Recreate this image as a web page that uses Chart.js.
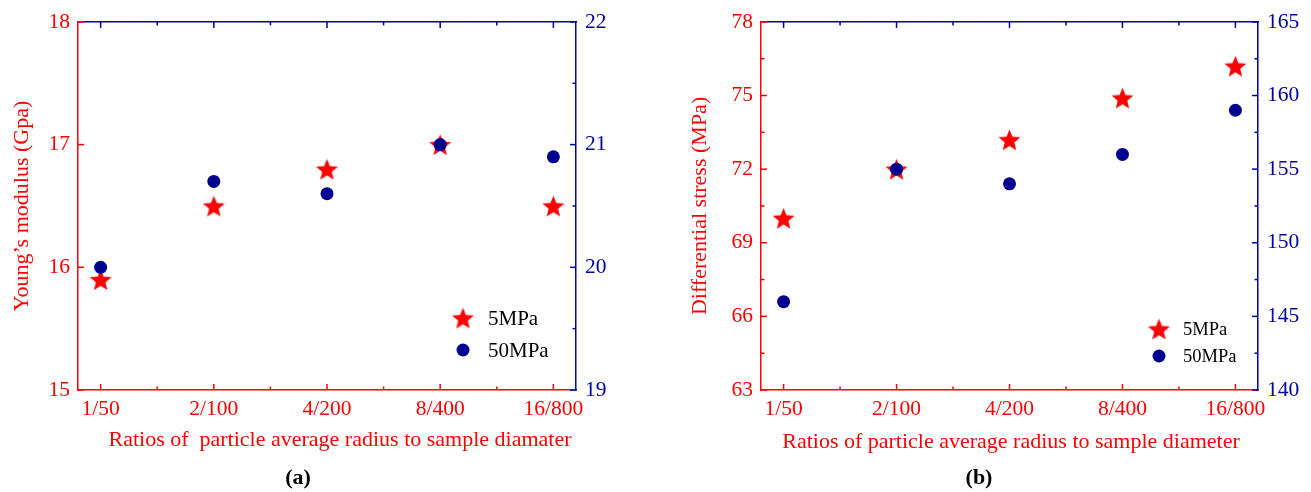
<!DOCTYPE html>
<html>
<head>
<meta charset="utf-8">
<script src="https://cdn.jsdelivr.net/npm/chart.js@4"></script>
<style>
  html, body { margin: 0; padding: 0; background: #fff; }
  #wrap { position: relative; width: 1311px; height: 492px; overflow: hidden; }
  .box { position: absolute; top: 0; height: 492px; }
  #boxA { left: 0; width: 655px; }
  #boxB { left: 655px; width: 656px; }
</style>
</head>
<body>
<div id="wrap">
  <div class="box" id="boxA"><canvas id="chartA" width="655" height="492"></canvas></div>
  <div class="box" id="boxB"><canvas id="chartB" width="656" height="492"></canvas></div>
</div>
<script>
// ---------------- data ----------------
const categories = ['1/50', '2/100', '4/200', '8/400', '16/800'];
const seriesNames = ['5MPa', '50MPa'];
// (a) Young's modulus
const modulus5MPa = [15.9, 16.5, 16.8, 17.0, 16.5];     // left axis (GPa)
const modulus50MPa = [20.0, 20.7, 20.6, 21.0, 20.9];    // right axis (GPa)
// (b) Differential stress
const stress5MPa = [70.0, 72.0, 73.2, 74.9, 76.2];      // left axis (MPa)
const stress50MPa = [146, 155, 154, 156, 159];          // right axis (MPa)
// axis tick ranges
const modulusLeftTicks = [15, 16, 17, 18];
const modulusRightTicks = [19, 20, 21, 22];
const stressLeftTicks = [63, 66, 69, 72, 75, 78];
const stressRightTicks = [140, 145, 150, 155, 160, 165];

// ---------------- styles ----------------
const RED = '#ff0000';
const BLUE = '#0000a0';
const DOT = '#00008f';
const FONT = "'Liberation Serif', 'Times New Roman', serif";

function makeStar(outer, inner, color) {
  const size = Math.ceil(outer * 2 + 2);
  const c = document.createElement('canvas');
  c.width = size; c.height = size;
  const g = c.getContext('2d');
  const cx = size / 2, cy = size / 2 + outer * 0.1;
  g.beginPath();
  for (let i = 0; i < 10; i++) {
    const r = i % 2 === 0 ? outer : inner;
    const a = -Math.PI / 2 + i * Math.PI / 5;
    const x = cx + r * Math.cos(a), y = cy + r * Math.sin(a);
    if (i === 0) g.moveTo(x, y); else g.lineTo(x, y);
  }
  g.closePath();
  g.fillStyle = color;
  g.fill();
  return c;
}
const starImg = makeStar(11.5, 5.0, RED);

const toPts = arr => arr.map((v, i) => ({ x: i, y: v }));

// inward ticks plugin (major + minor), uses the scales' own pixel mapping
const inTicks = {
  id: 'inTicks',
  afterDatasetsDraw(chart, args, opts) {
    const ctx = chart.ctx;
    const ca = chart.chartArea;
    Object.keys(opts.scales || {}).forEach(id => {
      const cfg = opts.scales[id];
      const s = chart.scales[id];
      if (!s) return;
      const n = Math.round((cfg.to - cfg.from) / cfg.minor);
      ctx.save();
      ctx.strokeStyle = cfg.color;
      ctx.lineWidth = 1.5;
      for (let i = 0; i <= n; i++) {
        const v = cfg.from + i * cfg.minor;
        const q = (v - cfg.from) / cfg.major;
        const isMajor = Math.abs(q - Math.round(q)) < 1e-6;
        const len = isMajor ? 6 : 3.5;
        const p = s.getPixelForValue(v);
        ctx.beginPath();
        if (cfg.pos === 'left') { ctx.moveTo(ca.left, p); ctx.lineTo(ca.left + len, p); }
        if (cfg.pos === 'right') { ctx.moveTo(ca.right, p); ctx.lineTo(ca.right - len, p); }
        if (cfg.pos === 'bottom') { ctx.moveTo(p, ca.bottom); ctx.lineTo(p, ca.bottom - len); }
        if (cfg.pos === 'top') { ctx.moveTo(p, ca.top); ctx.lineTo(p, ca.top + len); }
        ctx.stroke();
      }
      ctx.restore();
    });
  }
};

// free-positioned legend, x-axis title and panel label
const extras = {
  id: 'extras',
  afterDraw(chart, args, opts) {
    const ctx = chart.ctx;
    const ds = chart.data.datasets;
    ctx.save();
    opts.legend.items.forEach((it, k) => {
      const d = ds[it];
      const yy = opts.legend.y + k * opts.legend.dy;
      ctx.save();
      ctx.fillStyle = d.backgroundColor;
      ctx.strokeStyle = d.borderColor;
      ctx.lineWidth = 0;
      Chart.helpers.drawPoint(ctx, {
        pointStyle: d.pointStyle, radius: d.pointRadius, rotation: 0, borderWidth: 0
      }, opts.legend.x, yy);
      ctx.restore();
      ctx.font = opts.legend.size + 'px ' + FONT;
      ctx.fillStyle = '#000';
      ctx.textAlign = 'left';
      ctx.textBaseline = 'middle';
      ctx.fillText(d.label, opts.legend.tx, yy + 1);
    });
    // x-axis title
    ctx.font = '22px ' + FONT;
    ctx.fillStyle = RED;
    ctx.textAlign = 'center';
    ctx.textBaseline = 'middle';
    ctx.fillText(opts.xTitle.text, opts.xTitle.x, opts.xTitle.y);
    // panel label
    ctx.font = 'bold 22px ' + FONT;
    ctx.fillStyle = '#000';
    ctx.fillText(opts.label.text, opts.label.x, opts.label.y);
    ctx.restore();
  }
};

function buildChart(canvasId, cfg) {
  const leftT = cfg.leftTicks, rightT = cfg.rightTicks;
  return new Chart(document.getElementById(canvasId), {
    type: 'scatter',
    data: {
      datasets: [
        {
          label: seriesNames[0], data: toPts(cfg.s1), yAxisID: 'y', order: 1,
          pointStyle: starImg, pointRadius: 11, pointHoverRadius: 11,
          backgroundColor: RED, borderColor: RED
        },
        {
          label: seriesNames[1], data: toPts(cfg.s2), yAxisID: 'y1', order: 0,
          pointStyle: 'circle', pointRadius: 6.5, pointHoverRadius: 6.5, borderWidth: 0,
          backgroundColor: DOT, borderColor: DOT
        }
      ]
    },
    options: {
      responsive: false,
      animation: false,
      events: [],
      layout: { padding: { top: 21, left: 0, right: 0, bottom: 0 } },
      plugins: {
        legend: { display: false },
        tooltip: { enabled: false },
        inTicks: {
          scales: {
            x: { pos: 'bottom', from: 0, to: categories.length - 1, major: 1, minor: 0.5, color: RED },
            xTop: { pos: 'top', from: 0, to: categories.length - 1, major: 1, minor: 0.5, color: BLUE },
            y: { pos: 'left', from: leftT[0], to: leftT[leftT.length - 1], major: leftT[1] - leftT[0], minor: cfg.leftMinor, color: RED },
            y1: { pos: 'right', from: rightT[0], to: rightT[rightT.length - 1], major: rightT[1] - rightT[0], minor: (rightT[1] - rightT[0]) / 2, color: BLUE }
          }
        },
        extras: { legend: cfg.legend, label: cfg.label, xTitle: cfg.xTitle }
      },
      scales: {
        x: {
          type: 'linear', position: 'bottom', min: -0.2, max: categories.length - 0.8,
          grid: { display: false, drawTicks: false },
          border: { display: true, color: RED, width: 1.5 },
          ticks: {
            stepSize: 1, includeBounds: false, color: RED, padding: 6,
            font: { family: FONT, size: 21.5 },
            callback: v => (Number.isInteger(v) && categories[v] !== undefined) ? categories[v] : ''
          },
          afterFit: s => { s.height = 102; }
        },
        xTop: {
          type: 'linear', position: 'top', min: -0.2, max: categories.length - 0.8,
          grid: { display: false, drawTicks: false },
          border: { display: true, color: BLUE, width: 1.5 },
          ticks: { display: false },
          afterFit: s => { s.height = 0; }
        },
        y: {
          type: 'linear', position: 'left', min: leftT[0], max: leftT[leftT.length - 1],
          grid: { display: false, drawTicks: false },
          border: { display: true, color: RED, width: 1.5 },
          ticks: {
            stepSize: leftT[1] - leftT[0], color: RED, padding: 8,
            font: { family: FONT, size: 21.5 }
          },
          title: {
            display: true, text: cfg.yTitle, color: RED,
            font: { family: FONT, size: 22 }, padding: { top: cfg.yTitlePad, bottom: 0 }
          },
          afterFit: s => { s.width = cfg.leftWidth; }
        },
        y1: {
          type: 'linear', position: 'right', min: rightT[0], max: rightT[rightT.length - 1],
          grid: { display: false, drawTicks: false },
          border: { display: true, color: BLUE, width: 1.5 },
          ticks: {
            stepSize: rightT[1] - rightT[0], color: BLUE, padding: 9,
            font: { family: FONT, size: 21.5 }
          },
          afterFit: s => { s.width = cfg.rightWidth; }
        }
      }
    },
    plugins: [inTicks, extras]
  });
}

buildChart('chartA', {
  s1: modulus5MPa, s2: modulus50MPa,
  leftTicks: modulusLeftTicks, rightTicks: modulusRightTicks, leftMinor: 1,
  xTitle: { text: 'Ratios of  particle average radius to sample diamater', x: 340, y: 440 },
  yTitle: 'Young\u2019s modulus (Gpa)', yTitlePad: 9,
  leftWidth: 78, rightWidth: 79,
  legend: { x: 463, y: 318, dy: 32, tx: 488, size: 21, items: [0, 1] },
  label: { text: '(a)', x: 298, y: 478 }
});

buildChart('chartB', {
  s1: stress5MPa, s2: stress50MPa,
  leftTicks: stressLeftTicks, rightTicks: stressRightTicks, leftMinor: 1.5,
  xTitle: { text: 'Ratios of particle average radius to sample diameter', x: 356, y: 442 },
  yTitle: 'Differential stress (MPa)', yTitlePad: 32,
  leftWidth: 106, rightWidth: 53,
  legend: { x: 504, y: 329, dy: 27, tx: 528, size: 18.5, items: [0, 1] },
  label: { text: '(b)', x: 324, y: 478 }
});
</script>
</body>
</html>
